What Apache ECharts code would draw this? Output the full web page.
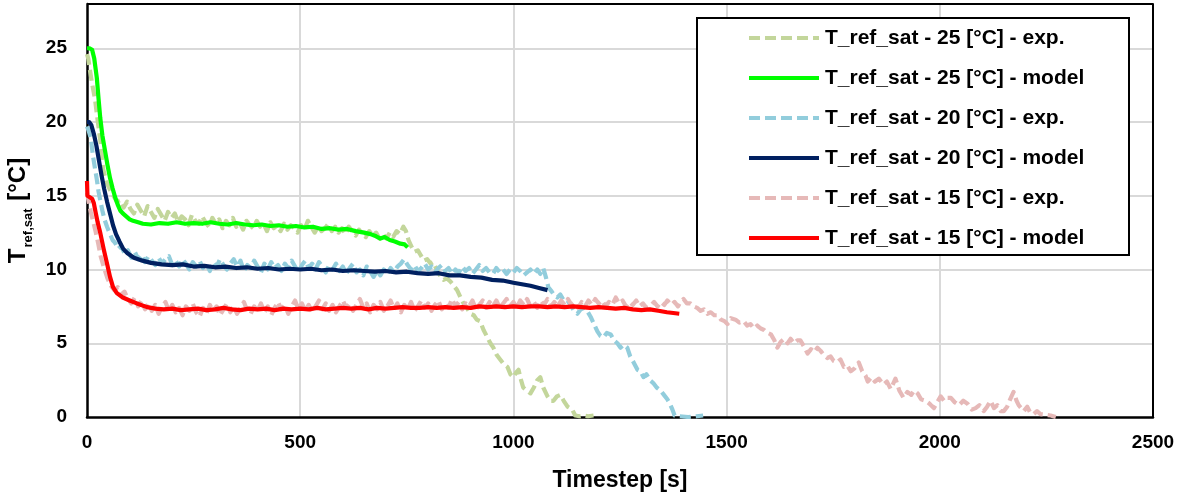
<!DOCTYPE html>
<html>
<head>
<meta charset="utf-8">
<script src="https://cdn.jsdelivr.net/npm/echarts@6/dist/echarts.min.js"></script>
<style>
html,body{margin:0;padding:0;background:#fff;}
#chart{width:1182px;height:497px;}
</style>
</head>
<body>
<div id="chart"></div>
<script>
// ---- tick labels / axis info ----
const xTicks = [0, 500, 1000, 1500, 2000, 2500];
const yTicks = [0, 5, 10, 15, 20, 25];
const xTitle = 'Timestep [s]';
const seriesNames = [
  'T_ref_sat - 25 [°C] - exp.',
  'T_ref_sat - 25 [°C] - model',
  'T_ref_sat - 20 [°C] - exp.',
  'T_ref_sat - 20 [°C] - model',
  'T_ref_sat - 15 [°C] - exp.',
  'T_ref_sat - 15 [°C] - model'
];

// ---- data [time s, temperature °C] ----
const exp25 = [[0,24.6],[3,24.3],[7,23.5],[12,22.6],[19,21.5],[25,20.1],[31,18.8],[38,16.8],[46,15.9],[54,15.4],[62,15.0],[70,14.6],[78,14.7],[86,14.2],[94,14.6],[102,14.1],[110,13.8],[118,14.4],[126,14.0],[134,13.6],[142,14.3],[150,13.9],[158,13.5],[166,14.1],[174,13.7],[182,13.3],[190,13.9],[198,13.5],[206,13.8],[214,13.2],[222,13.6],[230,13.4],[238,13.0],[246,13.7],[254,13.3],[262,13.1],[270,13.6],[278,13.2],[286,12.9],[294,13.5],[302,13.1],[310,13.4],[318,12.8],[326,13.3],[334,13.0],[342,13.5],[350,12.9],[358,13.2],[366,12.7],[374,13.3],[382,13.0],[390,12.8],[398,13.3],[406,12.9],[414,13.1],[422,12.6],[430,13.2],[438,12.8],[446,13.0],[454,12.6],[462,13.1],[470,12.7],[478,13.0],[486,12.8],[494,12.5],[502,13.0],[510,12.7],[518,13.3],[526,12.9],[534,12.5],[542,12.9],[550,12.6],[558,12.8],[566,13.1],[574,12.6],[582,12.9],[590,12.5],[598,12.8],[606,12.4],[614,12.9],[622,12.6],[630,12.3],[638,12.7],[646,12.4],[654,12.2],[662,12.6],[670,12.3],[678,12.5],[686,12.1],[694,12.4],[702,12.1],[710,12.5],[718,12.2],[726,12.6],[734,12.4],[742,12.9],[748,12.6],[754,12.0],[760,11.6],[768,11.2],[776,11.3],[782,11.0],[790,10.6],[798,10.7],[806,10.4],[812,10.5],[820,10.0],[828,9.6],[836,9.3],[844,9.4],[852,9.2],[860,8.9],[868,8.6],[876,8.1],[883,7.7],[891,7.4],[899,7.0],[907,6.9],[914,6.6],[922,6.5],[930,5.9],[939,5.4],[946,5.0],[953,4.7],[961,4.2],[969,3.9],[977,3.6],[986,3.4],[993,2.9],[1000,2.7],[1006,3.0],[1012,3.2],[1018,2.5],[1023,2.0],[1031,1.8],[1040,1.6],[1048,2.0],[1056,2.5],[1063,2.7],[1070,2.0],[1080,1.4],[1087,1.1],[1094,1.1],[1102,1.4],[1110,1.5],[1118,1.1],[1127,0.7],[1133,0.6],[1138,0.5],[1145,0.1],[1155,0.05],[1165,0.1],[1175,0.05],[1188,0.1]];

const model25 = [[0,25.0],[6,25.0],[12,24.9],[17,24.3],[23,23.0],[27,21.6],[31,20.3],[36,19.1],[42,18.1],[48,17.1],[54,16.2],[60,15.5],[66,14.9],[72,14.4],[78,14.0],[84,13.8],[92,13.6],[100,13.4],[108,13.3],[120,13.2],[131,13.1],[150,13.05],[170,13.15],[190,13.1],[210,13.2],[230,13.1],[250,13.15],[270,13.1],[290,13.2],[310,13.1],[330,13.05],[350,13.15],[370,13.05],[390,13.0],[410,13.05],[430,12.95],[450,13.0],[470,12.9],[490,12.95],[510,12.85],[530,12.9],[550,12.75],[570,12.8],[590,12.7],[610,12.75],[630,12.6],[650,12.5],[665,12.4],[678,12.25],[688,12.1],[698,12.2],[710,12.0],[722,11.9],[735,11.75],[745,11.7],[752,11.5]];

const exp20 = [[0,19.7],[4,19.4],[9,18.9],[14,17.7],[19,16.8],[23,16.1],[27,15.3],[31,14.7],[36,14.0],[41,13.4],[47,12.9],[54,12.4],[60,12.0],[66,11.8],[73,11.4],[80,11.6],[88,11.1],[96,11.3],[104,10.8],[112,11.2],[120,10.7],[128,11.0],[136,10.5],[144,10.9],[152,10.6],[160,10.3],[168,10.8],[176,10.4],[184,10.7],[192,10.9],[200,10.3],[208,10.6],[216,10.2],[224,10.7],[232,10.4],[240,10.0],[248,10.5],[256,10.2],[264,10.6],[272,10.1],[280,10.4],[288,9.9],[296,10.5],[304,10.2],[312,10.7],[320,10.3],[328,10.0],[336,10.4],[344,10.7],[352,10.2],[360,10.6],[368,9.9],[376,10.3],[384,10.1],[392,10.6],[400,10.2],[408,9.8],[416,10.4],[424,10.0],[432,10.5],[440,10.1],[448,10.3],[456,9.9],[464,10.4],[472,10.1],[480,10.6],[488,10.2],[496,9.8],[504,10.3],[512,10.6],[520,10.1],[528,10.4],[536,10.0],[544,10.5],[552,10.2],[560,9.8],[568,10.3],[576,10.0],[584,10.4],[592,9.9],[600,10.2],[608,9.7],[616,10.1],[624,10.4],[632,9.8],[640,10.0],[648,9.6],[656,10.2],[664,9.9],[672,9.5],[680,9.9],[688,9.6],[696,10.0],[704,9.7],[712,10.1],[720,9.8],[728,10.2],[736,10.4],[744,10.7],[752,10.3],[760,10.0],[768,10.3],[776,9.9],[784,10.1],[792,10.4],[800,10.0],[808,10.2],[816,9.8],[824,10.1],[832,10.3],[840,9.9],[848,10.1],[856,9.7],[864,10.0],[872,9.8],[880,10.2],[888,9.9],[896,10.1],[904,9.7],[912,10.0],[920,10.3],[928,9.9],[936,10.1],[944,9.8],[952,9.7],[960,10.1],[968,9.8],[976,10.0],[984,9.7],[992,10.0],[1000,9.8],[1008,10.1],[1016,9.9],[1024,9.6],[1032,9.8],[1040,10.0],[1048,9.7],[1056,10.0],[1063,9.7],[1070,10.1],[1076,9.5],[1082,8.8],[1090,8.5],[1097,8.2],[1103,8.1],[1110,8.3],[1118,7.9],[1127,7.9],[1134,7.6],[1142,7.2],[1150,7.0],[1158,7.3],[1166,7.4],[1173,7.2],[1181,6.8],[1189,6.3],[1197,5.8],[1204,5.5],[1211,5.4],[1219,5.7],[1228,5.6],[1236,5.2],[1244,5.0],[1251,4.7],[1259,4.9],[1267,4.7],[1274,4.1],[1282,3.7],[1291,3.2],[1298,3.1],[1305,2.7],[1312,2.9],[1320,2.5],[1328,2.3],[1336,2.0],[1345,1.8],[1353,1.5],[1361,1.2],[1367,0.9],[1373,0.5],[1378,0.1],[1390,0.05],[1410,0],[1430,0.05],[1445,0.1]];

const model20 = [[0,20.0],[5,20.0],[10,19.8],[16,19.2],[22,18.4],[28,17.4],[34,16.4],[40,15.5],[47,14.6],[54,13.8],[61,13.0],[68,12.4],[76,11.9],[85,11.4],[95,11.1],[110,10.8],[130,10.6],[150,10.45],[175,10.35],[200,10.3],[225,10.35],[250,10.2],[275,10.25],[300,10.15],[325,10.2],[350,10.1],[375,10.15],[400,10.05],[425,10.1],[450,10.0],[475,10.05],[500,10.0],[525,10.05],[550,9.95],[575,10.0],[600,9.9],[625,9.95],[650,9.9],[675,9.85],[700,9.9],[725,9.8],[750,9.85],[775,9.75],[800,9.7],[825,9.75],[850,9.6],[875,9.6],[900,9.5],[925,9.45],[950,9.3],[975,9.25],[1000,9.1],[1020,9.0],[1040,8.9],[1060,8.75],[1080,8.6]];

const exp15 = [[0,15.2],[4,14.6],[9,13.9],[14,13.3],[20,12.6],[26,11.8],[32,10.9],[40,10.1],[48,9.4],[56,8.9],[64,8.6],[72,8.8],[80,8.3],[88,8.5],[96,8.0],[104,7.7],[112,8.1],[120,7.5],[128,7.9],[136,7.3],[144,7.7],[152,7.2],[160,7.6],[168,7.0],[176,7.5],[184,7.8],[192,7.2],[200,7.6],[208,7.1],[216,7.4],[224,6.9],[232,7.5],[240,7.2],[248,7.7],[256,7.1],[264,6.8],[272,7.4],[280,7.0],[288,7.6],[296,7.2],[304,7.5],[312,6.9],[320,7.3],[328,7.7],[336,7.1],[344,7.5],[352,7.0],[360,7.4],[368,7.8],[376,7.2],[384,7.0],[392,7.5],[400,7.2],[408,7.7],[416,7.1],[424,7.5],[432,6.9],[440,7.4],[448,7.8],[456,7.3],[464,7.6],[472,7.0],[480,7.5],[488,7.9],[496,7.3],[504,7.7],[512,7.2],[520,7.6],[528,7.1],[536,7.5],[544,7.9],[552,7.3],[560,7.7],[568,7.2],[576,7.6],[584,7.1],[592,7.5],[600,7.9],[608,7.4],[616,7.7],[624,7.2],[632,7.6],[640,8.0],[648,7.4],[656,7.7],[664,7.1],[672,7.6],[680,7.3],[688,7.8],[696,7.2],[704,7.5],[712,7.9],[720,7.3],[728,7.7],[736,7.1],[744,7.6],[752,7.3],[760,7.8],[768,7.2],[776,7.5],[784,7.9],[792,7.4],[800,7.7],[808,7.2],[816,7.6],[824,7.9],[832,7.3],[840,7.7],[848,7.4],[856,8.0],[864,7.5],[872,7.8],[880,7.3],[888,7.7],[896,7.5],[904,7.9],[912,7.3],[920,7.6],[928,7.9],[936,7.4],[944,7.8],[952,7.5],[960,7.9],[968,7.4],[976,7.7],[984,8.0],[992,7.5],[1000,7.8],[1008,7.4],[1016,7.9],[1024,7.6],[1032,8.0],[1040,7.5],[1048,7.8],[1056,7.4],[1064,7.9],[1072,7.6],[1080,8.0],[1088,7.5],[1096,7.8],[1104,7.5],[1112,7.9],[1120,7.6],[1128,8.0],[1136,7.6],[1144,7.8],[1152,7.4],[1160,7.8],[1168,7.5],[1176,7.9],[1184,7.6],[1192,8.0],[1200,7.7],[1208,7.9],[1216,7.5],[1224,7.8],[1232,7.6],[1240,8.1],[1248,7.7],[1256,7.9],[1264,7.5],[1272,7.8],[1280,7.6],[1288,7.9],[1296,7.5],[1304,7.7],[1312,7.4],[1321,7.5],[1330,7.8],[1338,7.5],[1346,7.8],[1354,7.6],[1361,7.9],[1370,7.6],[1378,7.8],[1386,7.5],[1392,7.8],[1399,8.0],[1407,7.7],[1415,7.7],[1423,7.5],[1431,7.4],[1439,7.2],[1447,7.3],[1455,7.0],[1463,7.1],[1471,6.9],[1479,6.9],[1487,6.6],[1495,6.5],[1502,6.3],[1510,6.7],[1521,6.6],[1530,6.4],[1540,6.5],[1548,6.2],[1556,6.3],[1564,6.0],[1572,6.2],[1580,6.0],[1588,5.9],[1596,5.7],[1604,5.6],[1612,5.2],[1619,4.7],[1627,5.1],[1635,5.3],[1643,5.0],[1650,5.3],[1658,5.0],[1666,5.2],[1673,5.2],[1681,4.8],[1690,4.3],[1698,4.6],[1706,4.4],[1713,4.7],[1720,4.5],[1728,4.2],[1736,4.0],[1744,4.1],[1751,3.8],[1759,3.7],[1767,3.9],[1775,3.4],[1783,3.5],[1791,3.1],[1800,3.3],[1810,3.7],[1818,3.1],[1826,2.8],[1831,2.4],[1840,2.7],[1848,2.4],[1857,2.6],[1868,2.2],[1876,2.4],[1885,1.9],[1896,2.6],[1905,1.8],[1915,1.3],[1924,1.7],[1933,1.5],[1940,1.8],[1948,1.6],[1956,1.2],[1967,1.1],[1976,0.9],[1986,0.6],[1994,1.0],[2002,1.4],[2010,1.1],[2018,1.3],[2026,1.3],[2035,1.0],[2045,0.8],[2055,1.1],[2065,0.9],[2075,0.5],[2084,0.6],[2093,0.8],[2103,0.4],[2111,0.7],[2119,1.1],[2127,0.6],[2135,0.8],[2143,0.4],[2150,0.4],[2158,0.7],[2165,1.2],[2173,1.7],[2180,1.1],[2185,0.8],[2191,0.6],[2197,0.4],[2205,0.7],[2212,0.3],[2220,0.2],[2228,0.4],[2236,0.2],[2248,0.15],[2260,0.1],[2272,0.0]];

const model15 = [[0,16.0],[1,15.0],[5,14.9],[12,14.8],[16,14.5],[20,13.9],[25,13.2],[31,12.5],[39,11.4],[47,10.4],[54,9.5],[61,8.8],[70,8.4],[84,8.1],[100,7.9],[117,7.7],[141,7.45],[160,7.35],[180,7.3],[200,7.35],[220,7.25],[240,7.3],[260,7.35],[280,7.25],[300,7.3],[320,7.4],[340,7.3],[360,7.25],[380,7.35],[400,7.3],[420,7.35],[440,7.25],[460,7.35],[480,7.3],[500,7.35],[520,7.3],[540,7.4],[560,7.3],[580,7.35],[600,7.4],[620,7.35],[640,7.4],[660,7.3],[680,7.4],[700,7.35],[720,7.4],[740,7.45],[760,7.4],[780,7.4],[800,7.45],[820,7.4],[840,7.45],[860,7.4],[880,7.45],[900,7.4],[920,7.5],[940,7.45],[960,7.5],[980,7.45],[1000,7.5],[1020,7.45],[1040,7.5],[1060,7.5],[1080,7.45],[1100,7.5],[1120,7.45],[1140,7.5],[1160,7.45],[1180,7.4],[1200,7.45],[1220,7.4],[1240,7.35],[1260,7.4],[1280,7.3],[1300,7.25],[1320,7.3],[1340,7.2],[1360,7.1],[1375,7.05],[1389,7.0]];

const seriesData = [exp25, model25, exp20, model20, exp15, model15];
const seriesColors = ['#c3d69b', '#00ff00', '#92cddc', '#002060', '#e6b9b8', '#ff0000'];
const seriesDashed = [true, false, true, false, true, false];

const FONT = '"Liberation Sans", Arial, sans-serif';

const chart = echarts.init(document.getElementById('chart'), null, {renderer: 'canvas'});

const series = seriesNames.map((name, i) => ({
  name: name,
  type: 'line',
  data: seriesData[i],
  showSymbol: false,
  symbol: 'none',
  smooth: false,
  z: seriesDashed[i] ? 2 : 3,
  lineStyle: {
    color: seriesColors[i],
    width: 4.2,
    type: seriesDashed[i] ? [11, 5] : 'solid',
    cap: 'butt',
    join: 'round'
  },
  itemStyle: {color: seriesColors[i]},
  emphasis: {disabled: true}
}));

const option = {
  animation: false,
  backgroundColor: '#ffffff',
  grid: {left: 87, right: 29, top: 4, bottom: 80, containLabel: false, outerBoundsMode: 'none'},
  xAxis: {
    type: 'value',
    min: xTicks[0],
    max: xTicks[xTicks.length - 1],
    interval: xTicks[1] - xTicks[0],
    name: xTitle,
    nameLocation: 'middle',
    nameGap: 52,
    nameTextStyle: {fontFamily: FONT, fontWeight: 'bold', fontSize: 23, color: '#000'},
    axisLine: {show: true, onZero: false, lineStyle: {color: '#000', width: 2.5}},
    axisTick: {show: false},
    axisLabel: {fontFamily: FONT, fontWeight: 'bold', fontSize: 19, color: '#000', margin: 16,
      formatter: v => String(v)},
    splitLine: {show: true, showMinLine: false, lineStyle: {color: '#d9d9d9', width: 2}}
  },
  yAxis: [{
    type: 'value',
    min: yTicks[0],
    max: 28,
    interval: yTicks[1] - yTicks[0],
    name: '{t|T}{s|ref,sat}{t| [°C]}',
    nameLocation: 'middle',
    nameRotate: 90,
    nameGap: 52,
    nameTextStyle: {
      fontFamily: FONT, fontWeight: 'bold', color: '#000',
      rich: {
        t: {fontFamily: FONT, fontWeight: 'bold', fontSize: 24, lineHeight: 25, color: '#000', verticalAlign: 'top'},
        s: {fontFamily: FONT, fontWeight: 'bold', fontSize: 13, lineHeight: 13, color: '#000', padding: [16, 1, 0, 1], verticalAlign: 'top'}
      }
    },
    axisLine: {show: true, onZero: false, lineStyle: {color: '#000', width: 2.5}},
    axisTick: {show: false},
    axisLabel: {fontFamily: FONT, fontWeight: 'bold', fontSize: 19, color: '#000', margin: 20, showMaxLabel: false},
    splitLine: {show: true, showMinLine: false, showMaxLine: false, lineStyle: {color: '#d9d9d9', width: 2}}
  }, {
    type: 'value',
    position: 'right',
    min: yTicks[0],
    max: 28,
    interval: yTicks[1] - yTicks[0],
    axisLine: {show: true, onZero: false, lineStyle: {color: '#000', width: 2}},
    axisTick: {show: false},
    axisLabel: {show: false},
    splitLine: {show: false}
  }],
  legend: {
    orient: 'vertical',
    left: 747,
    top: 27,
    padding: 0,
    itemWidth: 70,
    itemHeight: 14,
    itemGap: 18,
    selectedMode: false,
    itemStyle: {color: 'rgba(0,0,0,0)', borderWidth: 0, opacity: 0},
    lineStyle: {width: 4},
    textStyle: {fontFamily: FONT, fontWeight: 'bold', fontSize: 21, lineHeight: 22, color: '#000', padding: [0, 0, 0, 1]},
    data: seriesNames
  },
  graphic: [
    {
      type: 'line',
      z: 5,
      shape: {x1: 87, y1: 4, x2: 1153, y2: 4},
      style: {stroke: '#000', lineWidth: 2},
      silent: true
    },
    {
      type: 'rect',
      z: 3,
      shape: {x: 697, y: 18, width: 432, height: 237},
      style: {fill: '#ffffff', stroke: '#000', lineWidth: 2},
      silent: true
    }
  ],
  series: series
};

chart.setOption(option);
</script>
</body>
</html>
